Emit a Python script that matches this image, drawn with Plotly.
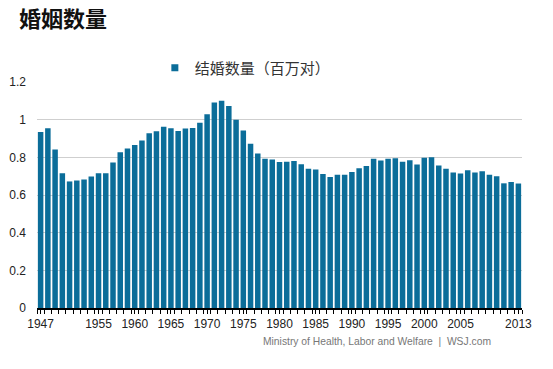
import plotly.graph_objects as go

years = list(range(1947, 2014))
marriages = [
    0.934, 0.954, 0.842, 0.715, 0.672, 0.677, 0.682, 0.698, 0.715, 0.716,
    0.773, 0.827, 0.847, 0.866, 0.890, 0.928, 0.938, 0.963, 0.955, 0.940,
    0.953, 0.956, 0.984, 1.029, 1.091, 1.100, 1.072, 1.000, 0.942, 0.872,
    0.821, 0.793, 0.789, 0.775, 0.777, 0.781, 0.763, 0.740, 0.736, 0.711,
    0.696, 0.708, 0.708, 0.722, 0.742, 0.754, 0.793, 0.783, 0.792, 0.795,
    0.776, 0.785, 0.762, 0.798, 0.800, 0.757, 0.740, 0.720, 0.714, 0.731,
    0.720, 0.726, 0.708, 0.700, 0.662, 0.669, 0.661,
]
x_ticks = [1947, 1955, 1960, 1965, 1970, 1975, 1980, 1985, 1990, 1995, 2000, 2005, 2013]
y_ticks = [0, 0.2, 0.4, 0.6, 0.8, 1.0, 1.2]
y_labels = ["0", "0.2", "0.4", "0.6", "0.8", "1", "1.2"]
series_name = "结婚数量（百万对）"
title = "婚姻数量"
source = "Ministry of Health, Labor and Welfare  |  WSJ.com"

color = "#0b6d99"

fig = go.Figure()
fig.add_trace(go.Bar(x=years, y=marriages, marker=dict(color=color, line=dict(width=0)),
                     showlegend=False, hoverinfo="x+y"))
fig.add_trace(go.Scatter(x=[None], y=[None], mode="markers", name=series_name,
                         marker=dict(symbol="square", size=7, color=color)))

fig.update_layout(
    width=553, height=369,
    margin=dict(l=37, r=31, t=82, b=61, autoexpand=False),
    paper_bgcolor="white", plot_bgcolor="white",
    bargap=0.24,
    font=dict(family="Liberation Sans, Arial, sans-serif", size=12, color="#222"),
    legend=dict(orientation="h", x=0.243, xanchor="left", y=1.062, yanchor="middle",
                font=dict(family="Noto Sans CJK SC", size=15, color="#333"),
                bgcolor="rgba(0,0,0,0)", itemwidth=30),
    xaxis=dict(range=[1946.5, 2013.5], tickmode="array", tickvals=x_ticks,
               ticktext=[str(v) for v in x_ticks], automargin=False,
               ticks="outside", ticklen=4, tickcolor="#000", tickwidth=1,
               showline=True, linecolor="#000", linewidth=2, showgrid=False,
               minor=dict(ticks="outside", dtick=1, tick0=1946.5, ticklen=4, tickcolor="#000", showgrid=False),
               tickfont=dict(size=12, color="#222"), fixedrange=True),
    yaxis=dict(range=[0, 1.2], tickmode="array", tickvals=y_ticks, ticktext=y_labels,
               showgrid=True, gridcolor="#cfcfcf", gridwidth=1, zeroline=False,
               ticks="", ticklabelstandoff=10, automargin=False,
               tickfont=dict(size=12, color="#222"), fixedrange=True),
    annotations=[
        dict(text="<b>" + title + "</b>", xref="paper", yref="paper", x=-0.041, y=1.288,
             xanchor="left", yanchor="middle", showarrow=False,
             font=dict(family="Noto Sans CJK SC", size=22, color="#111")),
        dict(text=source, xref="paper", yref="paper", x=0.940, y=-0.150,
             xanchor="right", yanchor="middle", showarrow=False,
             font=dict(family="Liberation Sans, Arial, sans-serif", size=10.3, color="#777")),
    ],
)

# remove the browser's default 8px body margin so the figure fills the window
fig.write_html("out.html", config={"displayModeBar": False},
               post_script="document.body.style.margin='0';")
